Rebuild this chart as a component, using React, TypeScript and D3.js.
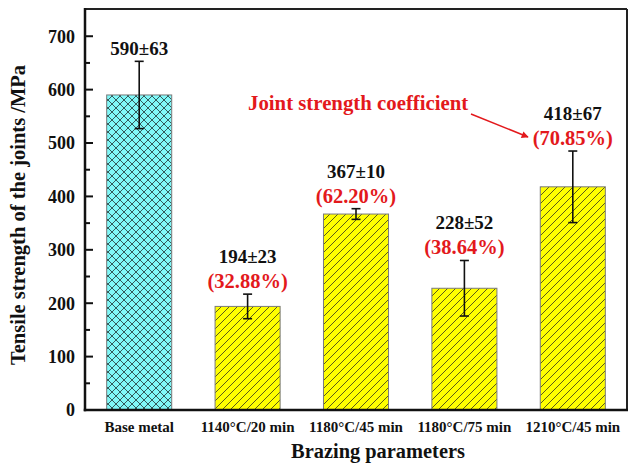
import React from "react";
import * as d3 from "d3";

// Brazing conditions and measured joint tensile strength (MPa)
const categories = [
  "Base metal",
  "1140°C/20 min",
  "1180°C/45 min",
  "1180°C/75 min",
  "1210°C/45 min",
];
const strength = [590, 194, 367, 228, 418];
const deviation = [63, 23, 10, 52, 67];
const coefficient = ["", "32.88%", "62.20%", "38.64%", "70.85%"];
const yTicks = [0, 100, 200, 300, 400, 500, 600, 700];
const yMinorTicks = [50, 150, 250, 350, 450, 550, 650];

const W = 629;
const H = 467;
const margin = { left: 85, right: 2, top: 9, bottom: 57 };
const FONT = "'Liberation Serif', 'Times New Roman', serif";
const RED = "#e3191c";

export default function App() {
  const x = d3
    .scaleBand<string>()
    .domain(categories)
    .range([margin.left, W - margin.right])
    .paddingInner(0.4)
    .paddingOuter(0.2);
  const y = d3
    .scaleLinear()
    .domain([0, 751])
    .range([H - margin.bottom, margin.top]);

  const x0 = margin.left;
  const x1 = W - margin.right;
  const y0 = y(0);
  const yTop = margin.top;

  return (
    <svg
      width={W}
      height={H}
      style={{ position: "absolute", left: 0, top: 0, background: "#fff" }}
      fontFamily={FONT}
    >
      <defs>
        <pattern id="cross" patternUnits="userSpaceOnUse" width={8} height={8}>
          <rect width={8} height={8} fill="#80f8f8" />
          <path
            d="M0,8 L8,0 M-2,2 L2,-2 M6,10 L10,6 M0,0 L8,8 M-2,6 L2,10 M6,-2 L10,2"
            stroke="#2a4a4a"
            strokeWidth={0.9}
          />
        </pattern>
        <pattern id="diag" patternUnits="userSpaceOnUse" width={8} height={8}>
          <rect width={8} height={8} fill="#ffff00" />
          <path
            d="M0,8 L8,0 M-2,2 L2,-2 M6,10 L10,6"
            stroke="#4a4a1a"
            strokeWidth={0.9}
          />
        </pattern>
        <marker
          id="arrow"
          viewBox="0 0 10 10"
          refX={9}
          refY={5}
          markerWidth={9}
          markerHeight={7}
          markerUnits="userSpaceOnUse"
          orient="auto"
        >
          <path d="M0,0 L10,5 L0,10 z" fill={RED} />
        </marker>
      </defs>

      {/* bars */}
      {categories.map((c, i) => (
        <rect
          key={c}
          x={x(c)}
          y={y(strength[i])}
          width={x.bandwidth()}
          height={y0 - y(strength[i])}
          fill={i === 0 ? "url(#cross)" : "url(#diag)"}
          stroke="#7a7a7a"
          strokeWidth={1}
        />
      ))}

      {/* error bars */}
      {categories.map((c, i) => {
        const cx = (x(c) ?? 0) + x.bandwidth() / 2;
        const hi = y(strength[i] + deviation[i]);
        const lo = y(strength[i] - deviation[i]);
        return (
          <g key={"e" + c} stroke="#111" strokeWidth={1.6}>
            <line x1={cx} x2={cx} y1={hi} y2={lo} />
            <line x1={cx - 4.5} x2={cx + 4.5} y1={hi} y2={hi} />
            <line x1={cx - 4.5} x2={cx + 4.5} y1={lo} y2={lo} />
          </g>
        );
      })}

      {/* value and coefficient labels */}
      {categories.map((c, i) => {
        const cx = (x(c) ?? 0) + x.bandwidth() / 2;
        const top = y(strength[i] + deviation[i]);
        const pctBase = top - 6;
        const valBase = i === 0 ? top - 6 : pctBase - 25;
        return (
          <g key={"l" + c} textAnchor="middle" fontWeight="bold">
            <text x={cx} y={valBase} fontSize={19} fill="#111">
              {`${strength[i]}±${deviation[i]}`}
            </text>
            {coefficient[i] && (
              <text x={cx} y={pctBase} fontSize={20.5} fill={RED}>
                {`(${coefficient[i]})`}
              </text>
            )}
          </g>
        );
      })}

      {/* annotation */}
      <text
        x={248}
        y={110}
        fontSize={20.8}
        fontWeight="bold"
        fill={RED}
      >
        Joint strength coefficient
      </text>
      <line
        x1={471}
        y1={114}
        x2={528}
        y2={137}
        stroke={RED}
        strokeWidth={1.5}
        markerEnd="url(#arrow)"
      />

      {/* frame */}
      <line x1={x0} x2={x1} y1={yTop} y2={yTop} stroke="#222" strokeWidth={2} />
      <line x1={x1} x2={x1} y1={yTop} y2={y0} stroke="#222" strokeWidth={2} />
      <line x1={x0} x2={x0} y1={yTop - 1} y2={y0 + 1.25} stroke="#111" strokeWidth={2.5} />
      <line x1={x0 - 1.25} x2={x1 + 1} y1={y0} y2={y0} stroke="#111" strokeWidth={2.5} />

      {/* y ticks */}
      {yTicks.map((t) => (
        <g key={"t" + t}>
          <line x1={x0} x2={x0 + 8} y1={y(t)} y2={y(t)} stroke="#111" strokeWidth={2} />
          <text
            x={x0 - 10}
            y={y(t)}
            dy="0.35em"
            textAnchor="end"
            fontSize={18}
            fontWeight="bold"
            fill="#111"
          >
            {t}
          </text>
        </g>
      ))}
      {yMinorTicks.map((t) => (
        <line key={"m" + t} x1={x0} x2={x0 + 5} y1={y(t)} y2={y(t)} stroke="#111" strokeWidth={2} />
      ))}

      {/* x tick labels */}
      {categories.map((c) => (
        <text
          key={"x" + c}
          x={(x(c) ?? 0) + x.bandwidth() / 2}
          y={432}
          textAnchor="middle"
          fontSize={15}
          fontWeight="bold"
          fill="#111"
        >
          {c}
        </text>
      ))}

      {/* axis titles */}
      <text x={378} y={458} textAnchor="middle" fontSize={20.4} fontWeight="bold" fill="#111">
        Brazing parameters
      </text>
      <text
        transform="translate(25,215) rotate(-90)"
        textAnchor="middle"
        fontSize={20.5}
        fontWeight="bold"
        fill="#111"
      >
        Tensile strength of the joints /MPa
      </text>
    </svg>
  );
}
